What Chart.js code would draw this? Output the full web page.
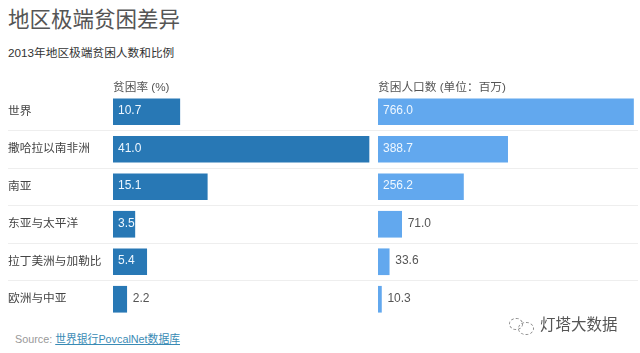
<!DOCTYPE html>
<html lang="zh">
<head>
<meta charset="utf-8">
<script src="https://cdn.jsdelivr.net/npm/chart.js@4/dist/chart.umd.min.js"></script>
<style>
  html, body { margin: 0; padding: 0; background: #fff; }
  body { width: 640px; height: 353px; overflow: hidden; position: relative;
         font-family: "Liberation Sans", "Noto Sans CJK SC", sans-serif; }
  canvas { position: absolute; top: 71px; }
  #left-chart { left: 8px; }
  #right-chart { left: 378px; }
  .txt { position: absolute; white-space: nowrap; }
  #title { left: 8px; top: 6px; font-size: 21.5px; line-height: 28px; color: #555; }
  #subtitle { left: 8px; top: 45px; font-size: 11.7px; line-height: 16px; color: #333; }
  #source { left: 15px; top: 331px; font-size: 10.8px; line-height: 16px; color: #999; }
  #source a { color: #3a8bb5; text-decoration: underline; }
  #mark { left: 540px; top: 314px; font-size: 15.5px; line-height: 22px; color: #555; }
  .dots { position: absolute; border: 1px dashed #888; border-radius: 50%; }
</style>
</head>
<body>
<div class="txt" id="title">地区极端贫困差异</div>
<div class="txt" id="subtitle">2013年地区极端贫困人数和比例</div>
<canvas id="left-chart" width="370" height="250"></canvas>
<canvas id="right-chart" width="260" height="250"></canvas>
<div class="txt" id="source">Source: <a>世界银行PovcalNet数据库</a></div>
<div class="dots" style="left:509px;top:318px;width:12px;height:10px"></div>
<div class="dots" style="left:518px;top:322px;width:14px;height:11px"></div>
<div class="txt" id="mark">灯塔大数据</div>

<script>
// 2013 extreme poverty by region
var categories = ['世界', '撒哈拉以南非洲', '南亚', '东亚与太平洋', '拉丁美洲与加勒比', '欧洲与中亚'];
var povertyRate = [10.7, 41.0, 15.1, 3.5, 5.4, 2.2];
var poorPopulation = [766.0, 388.7, 256.2, 71.0, 33.6, 10.3];
var rateHeader = '贫困率 (%)';
var popHeader = '贫困人口数 (单位：百万)';

var FONT = '"Liberation Sans", "Noto Sans CJK SC", sans-serif';
var SEP_COLOR = '#eeeeee';

// values on the bars: white inside long bars, dark beside short ones
var valueLabels = {
  id: 'valueLabels',
  afterDatasetsDraw: function (chart, args, opts) {
    var ctx = chart.ctx;
    var meta = chart.getDatasetMeta(0);
    ctx.save();
    ctx.font = '12px ' + FONT;
    ctx.textBaseline = 'middle';
    ctx.textAlign = 'left';
    chart.data.datasets[0].data.forEach(function (v, i) {
      var bar = meta.data[i];
      var inside = v >= opts.insideFrom;
      ctx.fillStyle = inside ? '#eef7ff' : '#555555';
      ctx.fillText(v.toFixed(1), inside ? bar.base + 5 : bar.x + 6, bar.y - 1);
    });
    ctx.restore();
  }
};

function makePanel(id, values, color, header, xMax, insideFrom, axisWidth, showNames) {
  return new Chart(document.getElementById(id), {
    type: 'bar',
    data: {
      labels: categories,
      datasets: [{ data: values, backgroundColor: color, barThickness: 26 }]
    },
    options: {
      indexAxis: 'y',
      responsive: false,
      animation: false,
      layout: { padding: { left: 0, right: 0, top: 0, bottom: 3 } },
      plugins: {
        legend: { display: false },
        tooltip: { enabled: false },
        valueLabels: { insideFrom: insideFrom }
      },
      scales: {
        x: {
          position: 'top',
          min: 0,
          max: xMax,
          border: { display: false },
          grid: { display: false },
          ticks: { display: false },
          title: {
            display: true,
            text: header,
            align: 'start',
            color: '#555555',
            font: { family: FONT, size: 11.7 },
            padding: { top: 10, bottom: 0 }
          },
          afterFit: function (s) { s.height = 22; }
        },
        y: {
          border: { display: false },
          grid: {
            offset: true,
            tickLength: axisWidth,
            drawTicks: showNames,
            color: function (c) {
              return c.index > 0 && c.index < categories.length ? SEP_COLOR : 'transparent';
            }
          },
          ticks: {
            display: showNames,
            autoSkip: false,
            crossAlign: 'far',
            padding: 0,
            color: '#444444',
            font: { family: FONT, size: 11.7 }
          },
          // tick labels must not shrink the plot, both panels share row positions
          afterFit: function (s) {
            s.width = axisWidth;
            s.paddingTop = 0;
            s.paddingBottom = 0;
          }
        }
      }
    },
    plugins: [valueLabels]
  });
}

makePanel('left-chart', povertyRate, '#2878b5', rateHeader, 41.0 * 265 / 256, 3, 105, true);
makePanel('right-chart', poorPopulation, '#62a8ee', popHeader, 766.0 * 260 / 255.5, 100, 0, false);
</script>
</body>
</html>
